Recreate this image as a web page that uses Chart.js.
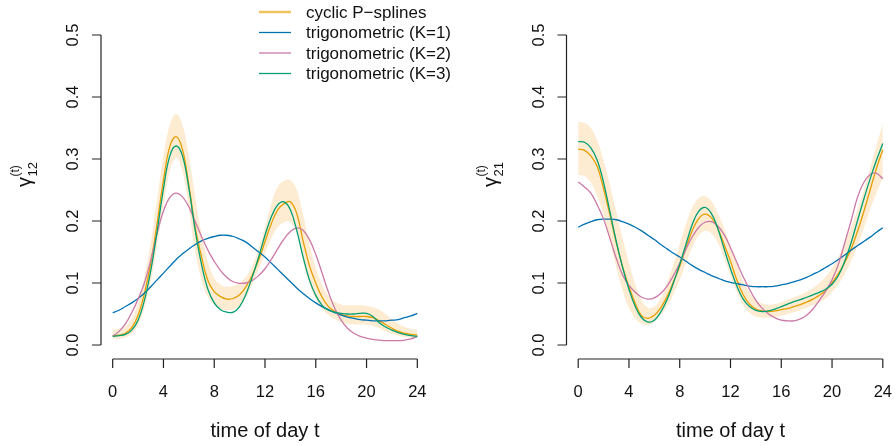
<!DOCTYPE html>
<html>
<head>
<meta charset="utf-8">
<script src="https://cdn.jsdelivr.net/npm/chart.js@4.4.1/dist/chart.umd.min.js"></script>
<style>
  html, body { margin: 0; padding: 0; background: #fff; }
  #wrap { position: relative; width: 895px; height: 445px; }
  canvas { position: absolute; left: 0; top: 0; }
</style>
</head>
<body>
<div id="wrap">
  <canvas id="panel12" width="895" height="445"></canvas>
  <canvas id="panel21" width="895" height="445"></canvas>
</div>
<script>
// time of day grid (hours)
const hours = [0, 0.5, 1, 1.5, 2, 2.5, 3, 3.5, 4, 4.5,
  5, 5.5, 6, 6.5, 7, 7.5, 8, 8.5, 9, 9.5,
  10, 10.5, 11, 11.5, 12, 12.5, 13, 13.5, 14, 14.5,
  15, 15.5, 16, 16.5, 17, 17.5, 18, 18.5, 19, 19.5,
  20, 20.5, 21, 21.5, 22, 22.5, 23, 23.5, 24];
const xTicks = [0, 4, 8, 12, 16, 20, 24];
const yTicks = [0, 0.1, 0.2, 0.3, 0.4, 0.5];
const yTickLabels = ['0.0', '0.1', '0.2', '0.3', '0.4', '0.5'];
const seriesNames = ['cyclic P\u2212splines', 'trigonometric (K=1)', 'trigonometric (K=2)', 'trigonometric (K=3)'];
const xTitle = 'time of day t';

// gamma_12
const pspline12 = [0.015, 0.016, 0.019, 0.028, 0.048, 0.083, 0.132, 0.196, 0.266, 0.320,
  0.336, 0.315, 0.258, 0.190, 0.142, 0.104, 0.086, 0.078, 0.074, 0.075,
  0.081, 0.094, 0.113, 0.137, 0.167, 0.196, 0.218, 0.228, 0.231, 0.212,
  0.168, 0.128, 0.100, 0.077, 0.062, 0.054, 0.049, 0.047, 0.046, 0.046,
  0.046, 0.044, 0.039, 0.033, 0.027, 0.022, 0.019, 0.017, 0.016];
const upper12 = [0.025, 0.026, 0.030, 0.042, 0.068, 0.110, 0.165, 0.235, 0.305, 0.355,
  0.373, 0.355, 0.305, 0.240, 0.180, 0.135, 0.108, 0.097, 0.094, 0.095,
  0.100, 0.110, 0.128, 0.155, 0.190, 0.228, 0.255, 0.265, 0.266, 0.250,
  0.210, 0.163, 0.125, 0.097, 0.079, 0.070, 0.065, 0.064, 0.064, 0.064,
  0.063, 0.061, 0.057, 0.050, 0.041, 0.034, 0.029, 0.026, 0.025];
const lower12 = [0.010, 0.010, 0.012, 0.018, 0.032, 0.060, 0.102, 0.160, 0.225, 0.280,
  0.302, 0.280, 0.220, 0.150, 0.105, 0.077, 0.065, 0.059, 0.056, 0.057,
  0.063, 0.077, 0.098, 0.122, 0.148, 0.172, 0.190, 0.198, 0.198, 0.180,
  0.135, 0.098, 0.074, 0.058, 0.048, 0.042, 0.037, 0.034, 0.033, 0.033,
  0.033, 0.031, 0.027, 0.022, 0.018, 0.015, 0.013, 0.012, 0.011];
const trigK1_12 = [0.052, 0.056, 0.062, 0.068, 0.075, 0.084, 0.094, 0.105, 0.116, 0.127,
  0.138, 0.147, 0.155, 0.162, 0.168, 0.172, 0.175, 0.177, 0.177, 0.175,
  0.171, 0.166, 0.158, 0.150, 0.142, 0.132, 0.122, 0.112, 0.102, 0.092,
  0.083, 0.075, 0.068, 0.062, 0.057, 0.052, 0.048, 0.045, 0.043, 0.041,
  0.040, 0.039, 0.039, 0.039, 0.040, 0.041, 0.044, 0.047, 0.051];
const trigK2_12 = [0.014, 0.022, 0.034, 0.052, 0.074, 0.100, 0.137, 0.180, 0.216, 0.238,
  0.245, 0.239, 0.223, 0.199, 0.175, 0.153, 0.135, 0.120, 0.109, 0.102,
  0.0995, 0.100, 0.104, 0.112, 0.123, 0.138, 0.155, 0.171, 0.183, 0.189,
  0.185, 0.170, 0.146, 0.116, 0.085, 0.059, 0.040, 0.027, 0.019, 0.014,
  0.011, 0.009, 0.008, 0.007, 0.007, 0.007, 0.008, 0.010, 0.014];
const trigK3_12 = [0.014, 0.015, 0.017, 0.024, 0.040, 0.072, 0.120, 0.183, 0.252, 0.305,
  0.321, 0.305, 0.253, 0.185, 0.130, 0.090, 0.068, 0.057, 0.053, 0.053,
  0.062, 0.082, 0.110, 0.142, 0.177, 0.207, 0.226, 0.231, 0.218, 0.185,
  0.142, 0.105, 0.080, 0.064, 0.056, 0.053, 0.051, 0.050, 0.050, 0.051,
  0.051, 0.046, 0.036, 0.029, 0.024, 0.020, 0.017, 0.015, 0.014];

// gamma_21
const pspline21 = [0.316, 0.314, 0.305, 0.288, 0.252, 0.210, 0.165, 0.126, 0.094, 0.067,
  0.047, 0.043, 0.048, 0.060, 0.078, 0.102, 0.127, 0.157, 0.185, 0.204,
  0.211, 0.205, 0.188, 0.162, 0.135, 0.105, 0.081, 0.066, 0.058, 0.055,
  0.054, 0.055, 0.057, 0.059, 0.062, 0.065, 0.069, 0.074, 0.080, 0.088,
  0.100, 0.115, 0.133, 0.155, 0.183, 0.215, 0.250, 0.285, 0.315];
const upper21 = [0.360, 0.358, 0.350, 0.330, 0.298, 0.258, 0.215, 0.172, 0.133, 0.098,
  0.072, 0.060, 0.062, 0.075, 0.100, 0.130, 0.163, 0.195, 0.222, 0.237,
  0.240, 0.232, 0.213, 0.188, 0.160, 0.130, 0.103, 0.085, 0.073, 0.067,
  0.065, 0.066, 0.069, 0.073, 0.077, 0.081, 0.086, 0.092, 0.100, 0.110,
  0.124, 0.142, 0.165, 0.190, 0.218, 0.250, 0.285, 0.322, 0.357];
const lower21 = [0.274, 0.272, 0.262, 0.240, 0.210, 0.168, 0.125, 0.088, 0.060, 0.043,
  0.034, 0.032, 0.037, 0.048, 0.062, 0.082, 0.105, 0.132, 0.158, 0.177,
  0.184, 0.180, 0.165, 0.140, 0.112, 0.085, 0.064, 0.052, 0.046, 0.044,
  0.044, 0.045, 0.047, 0.050, 0.053, 0.056, 0.060, 0.064, 0.069, 0.075,
  0.085, 0.098, 0.115, 0.135, 0.160, 0.188, 0.218, 0.245, 0.270];
const trigK1_21 = [0.190, 0.195, 0.199, 0.202, 0.203, 0.203, 0.202, 0.199, 0.195, 0.190,
  0.184, 0.177, 0.170, 0.162, 0.155, 0.148, 0.142, 0.135, 0.128, 0.122,
  0.117, 0.112, 0.108, 0.104, 0.101, 0.099, 0.097, 0.095, 0.094, 0.094,
  0.094, 0.095, 0.097, 0.099, 0.102, 0.105, 0.109, 0.114, 0.119, 0.125,
  0.131, 0.138, 0.145, 0.153, 0.160, 0.167, 0.174, 0.182, 0.189];
const trigK2_21 = [0.263, 0.255, 0.245, 0.226, 0.203, 0.172, 0.140, 0.113, 0.096, 0.085,
  0.077, 0.074, 0.076, 0.083, 0.095, 0.112, 0.132, 0.155, 0.175, 0.190,
  0.198, 0.199, 0.192, 0.178, 0.157, 0.133, 0.110, 0.090, 0.072, 0.059,
  0.050, 0.044, 0.040, 0.039, 0.039, 0.042, 0.048, 0.058, 0.072, 0.087,
  0.105, 0.130, 0.165, 0.200, 0.238, 0.262, 0.275, 0.277, 0.268];
const trigK3_21 = [0.328, 0.327, 0.318, 0.298, 0.262, 0.215, 0.167, 0.125, 0.090, 0.062,
  0.044, 0.037, 0.040, 0.053, 0.073, 0.100, 0.130, 0.163, 0.195, 0.216,
  0.222, 0.212, 0.188, 0.155, 0.123, 0.095, 0.074, 0.062, 0.056, 0.054,
  0.055, 0.058, 0.062, 0.066, 0.070, 0.073, 0.077, 0.081, 0.085, 0.090,
  0.098, 0.112, 0.135, 0.165, 0.200, 0.235, 0.268, 0.298, 0.325];

// colours
const orange = '#E69F00';
const blue = '#0072B2';
const pink = '#CC79A7';
const green = '#009E73';
const bandColor = '#FDEBD2';
const axisColor = '#222';
const fontFamily = '"Liberation Sans", Arial, Helvetica, sans-serif';

const pts = vals => hours.map((h, i) => ({ x: h, y: vals[i] }));

function lineSet(label, vals, color, order) {
    return {
        label: label, data: pts(vals), borderColor: color, borderWidth: 1.3,
        fill: false, pointRadius: 0, tension: 0.4, order: order
    };
}

function buildDatasets(ps, up, lo, k1, k2, k3) {
    return [
        { label: 'upper', data: pts(up), borderWidth: 0, borderColor: 'rgba(0,0,0,0)',
          backgroundColor: bandColor, fill: '+1', pointRadius: 0, tension: 0.4, order: 10 },
        { label: 'lower', data: pts(lo), borderWidth: 0, borderColor: 'rgba(0,0,0,0)',
          fill: false, pointRadius: 0, tension: 0.4, order: 9 },
        lineSet(seriesNames[0], ps, orange, 4),
        lineSet(seriesNames[1], k1, blue, 3),
        lineSet(seriesNames[2], k2, pink, 2),
        lineSet(seriesNames[3], k3, green, 1)
    ];
}

// R-style detached axes, drawn from the chart's own scales
function rAxesPlugin(sub, withLegend) {
    return {
        id: 'rAxes',
        afterDraw(chart) {
            const ctx = chart.ctx;
            const xs = chart.scales.x, ys = chart.scales.y;
            const area = chart.chartArea;
            const x0 = xs.getPixelForValue(0), x24 = xs.getPixelForValue(24);
            const yAxisX = area.left + 0.5;
            const xAxisY = ys.getPixelForValue(0) + 14;
            ctx.save();
            ctx.strokeStyle = axisColor;
            ctx.fillStyle = '#111';
            ctx.lineWidth = 1.2;

            // x axis
            ctx.beginPath();
            ctx.moveTo(x0, xAxisY); ctx.lineTo(x24, xAxisY);
            xTicks.forEach(t => {
                const px = xs.getPixelForValue(t);
                ctx.moveTo(px, xAxisY); ctx.lineTo(px, xAxisY + 9);
            });
            ctx.stroke();
            ctx.font = '16.5px ' + fontFamily;
            ctx.textAlign = 'center';
            ctx.textBaseline = 'alphabetic';
            xTicks.forEach(t => ctx.fillText(String(t), xs.getPixelForValue(t), 397));
            ctx.font = '20px ' + fontFamily;
            ctx.fillText(xTitle, (x0 + x24) / 2, 437);

            // y axis
            const y0 = ys.getPixelForValue(0), y5 = ys.getPixelForValue(0.5);
            ctx.beginPath();
            ctx.moveTo(yAxisX, y0); ctx.lineTo(yAxisX, y5);
            yTicks.forEach(v => {
                const py = ys.getPixelForValue(v);
                ctx.moveTo(yAxisX, py); ctx.lineTo(yAxisX - 9, py);
            });
            ctx.stroke();
            ctx.font = '16.5px ' + fontFamily;
            yTicks.forEach((v, i) => {
                ctx.save();
                ctx.translate(yAxisX - 23, ys.getPixelForValue(v));
                ctx.rotate(-Math.PI / 2);
                ctx.textAlign = 'center';
                ctx.fillText(yTickLabels[i], 0, 0);
                ctx.restore();
            });

            // y label: gamma^(t)_sub
            ctx.save();
            ctx.translate(yAxisX - 70, 187);
            ctx.rotate(-Math.PI / 2);
            ctx.textAlign = 'left';
            ctx.font = '20px ' + fontFamily;
            ctx.fillText('\u03b3', 0, 0);
            const gw = ctx.measureText('\u03b3').width;
            ctx.font = '12px ' + fontFamily;
            ctx.fillText('(t)', gw + 0.5, -12);
            ctx.font = '13px ' + fontFamily;
            ctx.fillText(sub, gw + 0.5, 6);
            ctx.restore();

            // legend
            if (withLegend) {
                const colors = ['#F2C25E', blue, pink, green];
                const rows = [12, 32.5, 53, 73.5];
                ctx.font = '17px ' + fontFamily;
                ctx.textAlign = 'left';
                ctx.textBaseline = 'middle';
                seriesNames.forEach((name, i) => {
                    ctx.strokeStyle = colors[i];
                    ctx.lineWidth = i === 0 ? 2.5 : 1.3;
                    ctx.beginPath();
                    ctx.moveTo(259, rows[i]); ctx.lineTo(291, rows[i]);
                    ctx.stroke();
                    ctx.fillStyle = '#111';
                    ctx.fillText(name, 306, rows[i] + 1);
                });
            }
            ctx.restore();
        }
    };
}

function makePanel(id, padding, datasets, sub, withLegend) {
    return new Chart(document.getElementById(id), {
        type: 'line',
        data: { datasets: datasets },
        options: {
            responsive: false, animation: false, devicePixelRatio: 1,
            layout: { padding: padding },
            plugins: { legend: { display: false }, tooltip: { enabled: false } },
            scales: {
                x: { type: 'linear', min: -0.96, max: 24.96, display: false },
                y: { type: 'linear', min: -0.02, max: 0.52, display: false }
            }
        },
        plugins: [rAxesPlugin(sub, withLegend)]
    });
}

makePanel('panel12', { left: 100.5, right: 465.5, top: 22.6, bottom: 87.6 },
    buildDatasets(pspline12, upper12, lower12, trigK1_12, trigK2_12, trigK3_12), '12', true);
makePanel('panel21', { left: 566, right: 0, top: 22.6, bottom: 87.6 },
    buildDatasets(pspline21, upper21, lower21, trigK1_21, trigK2_21, trigK3_21), '21', false);
</script>
</body>
</html>
